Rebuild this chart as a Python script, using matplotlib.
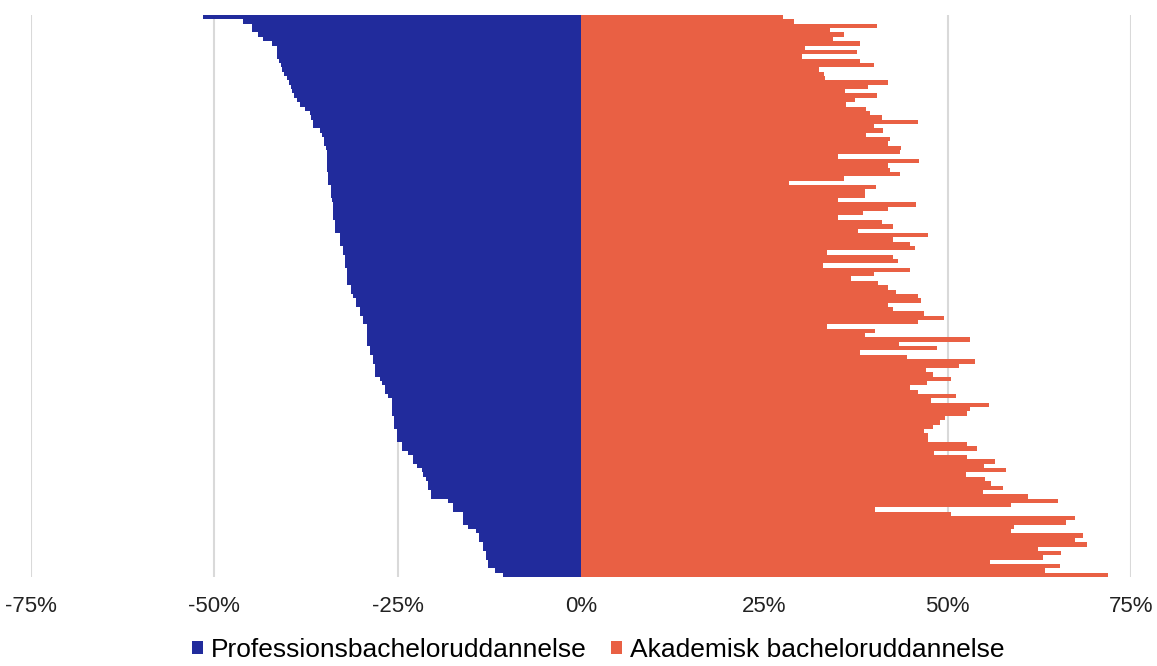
import numpy as np
import matplotlib.pyplot as plt

# constants
PROF_COLOR = '#212B9C'
AKAD_COLOR = '#E96044'
GRID_COLOR = '#D9D9D9'

# share of students (%), one row per programme, top to bottom
professions = [
    51.5, 46.1, 44.9, 44.9, 44.0, 43.4, 42.1, 41.5, 41.5, 41.4,
    41.2, 40.9, 40.8, 40.5, 40.1, 39.8, 39.5, 39.4, 39.1, 38.7,
    38.3, 37.6, 37.0, 36.8, 36.5, 36.5, 35.6, 35.3, 35.0, 35.0,
    34.8, 34.6, 34.6, 34.6, 34.6, 34.6, 34.5, 34.5, 34.5, 34.1,
    34.1, 34.1, 34.0, 33.8, 33.8, 33.8, 33.8, 33.5, 33.5, 33.5,
    32.9, 32.9, 32.9, 32.5, 32.5, 32.2, 32.2, 32.2, 31.9, 31.9,
    31.9, 31.9, 31.4, 31.4, 31.1, 30.7, 30.7, 30.1, 30.1, 29.7,
    29.7, 29.2, 29.2, 29.2, 29.2, 29.2, 28.8, 28.8, 28.4, 28.4,
    28.1, 28.1, 28.1, 27.4, 27.1, 26.7, 26.7, 26.3, 25.8, 25.8,
    25.8, 25.8, 25.5, 25.5, 25.5, 25.1, 25.1, 25.1, 24.4, 24.4,
    23.6, 22.9, 22.9, 22.4, 21.7, 21.5, 21.1, 20.9, 20.9, 20.5,
    20.5, 18.1, 17.5, 17.5, 16.1, 16.1, 16.1, 15.4, 14.3, 13.9,
    13.9, 13.4, 13.4, 13.0, 13.0, 12.7, 12.7, 11.7, 10.6,
]
akademisk = [
    27.6, 29.1, 40.3, 34.0, 35.9, 34.3, 38.0, 30.6, 37.6, 30.1,
    38.0, 39.9, 32.5, 33.1, 33.3, 41.9, 39.2, 36.0, 40.3, 37.3,
    36.1, 38.9, 39.4, 41.0, 45.9, 40.0, 41.2, 38.8, 42.2, 41.9,
    43.6, 43.5, 35.0, 46.1, 41.9, 42.1, 43.5, 35.8, 28.4, 40.2,
    38.7, 38.7, 35.1, 45.7, 41.9, 38.5, 35.1, 41.0, 42.5, 37.8,
    47.3, 42.6, 44.8, 45.5, 33.5, 42.6, 43.2, 33.0, 44.9, 40.0,
    36.8, 40.5, 41.8, 43.0, 46.0, 46.4, 41.9, 42.5, 46.8, 49.5,
    45.9, 33.6, 40.1, 38.7, 53.1, 43.4, 48.6, 38.0, 44.5, 53.7,
    51.5, 47.0, 48.0, 50.4, 47.2, 44.8, 46.0, 51.2, 47.7, 55.7,
    53.0, 52.7, 49.6, 48.9, 48.0, 46.8, 47.3, 47.3, 52.7, 54.0,
    48.1, 52.7, 56.5, 55.0, 57.9, 52.5, 55.1, 55.9, 57.6, 54.8,
    61.0, 65.0, 58.6, 40.1, 50.5, 67.3, 66.2, 59.0, 58.7, 68.4,
    67.3, 69.0, 62.3, 65.5, 63.0, 55.8, 65.3, 63.3, 71.8,
]
tick_values = [-75, -50, -25, 0, 25, 50, 75]
tick_labels = ['-75%', '-50%', '-25%', '0%', '25%', '50%', '75%']
series_names = ['Professionsbacheloruddannelse', 'Akademisk bacheloruddannelse']


def main():
    plt.rcParams['font.family'] = ['Liberation Sans', 'DejaVu Sans']

    fig = plt.figure(figsize=(11.57, 6.66), dpi=100)
    ax = fig.add_axes([0.0268, 0.1336, 0.9507, 0.8438])

    rows = np.arange(len(professions))
    ax.barh(rows, -np.array(professions), height=1.0, color=PROF_COLOR,
            label=series_names[0], linewidth=0)
    ax.barh(rows, akademisk, height=1.0, color=AKAD_COLOR,
            label=series_names[1], linewidth=0)

    ax.set_xlim(-75, 75)
    ax.set_ylim(len(rows) - 0.5, -0.5)
    ax.set_xticks(tick_values)
    ax.set_xticklabels(tick_labels)
    ax.set_yticks([])
    ax.tick_params(axis='x', length=0, pad=14, labelsize=16, labelcolor='#222222')
    ax.grid(axis='x', color=GRID_COLOR, linewidth=1.5)
    ax.set_axisbelow(True)
    for spine in ax.spines.values():
        spine.set_visible(False)

    fig.legend(loc='center', bbox_to_anchor=(0.517, 0.024), ncol=2,
               frameon=False, fontsize=19, handlelength=0.42, handleheight=0.42,
               handletextpad=0.3, columnspacing=0.95, borderpad=0.1)

    fig.savefig('out.png', dpi=100)


if __name__ == '__main__':
    main()
